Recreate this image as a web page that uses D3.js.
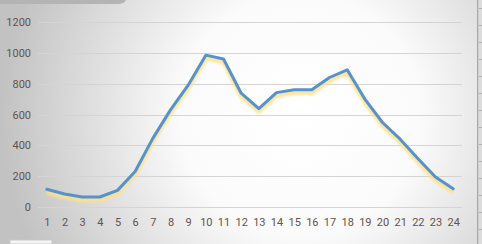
<!DOCTYPE html>
<html>
<head>
<meta charset="utf-8">
<script src="https://cdn.jsdelivr.net/npm/d3@7"></script>
<style>
  html, body { margin: 0; padding: 0; background: #d0d0d0; }
  svg { display: block; }
</style>
</head>
<body>
<div id="chart"></div>
<script>
// ---- Data ----
const hours = d3.range(1, 25).map(String);
const values = [115, 84, 65, 65, 108, 230, 445, 630, 790, 985, 960, 738,
                638, 742, 760, 760, 840, 890, 700, 548, 440, 315, 194, 118];
const yTicks = [0, 200, 400, 600, 800, 1000, 1200];

const width = 482, height = 244;
const margin = { top: 22, right: 20, bottom: 37, left: 38 };
const innerW = width - margin.left - margin.right;
const innerH = height - margin.top - margin.bottom;

const svg = d3.select("#chart").append("svg")
    .attr("width", width)
    .attr("height", height);

const defs = svg.append("defs");

// background: radial gradient, white centre
const bg = defs.append("radialGradient")
    .attr("id", "bg")
    .attr("gradientUnits", "userSpaceOnUse")
    .attr("cx", 300).attr("cy", 115)
    .attr("r", 300);
bg.append("stop").attr("offset", "0%").attr("stop-color", "#ffffff");
bg.append("stop").attr("offset", "40%").attr("stop-color", "#fbfbfb");
bg.append("stop").attr("offset", "100%").attr("stop-color", "#c2c2c2");

const blur = defs.append("filter").attr("id", "glow")
    .attr("x", "-10%").attr("y", "-10%").attr("width", "120%").attr("height", "120%");
blur.append("feGaussianBlur").attr("stdDeviation", 1.3);

svg.append("rect")
    .attr("width", width)
    .attr("height", height)
    .attr("fill", "url(#bg)");

// top-left tab & right edge strip
svg.append("path")
    .attr("d", "M0,0 H126 Q124,4 118,4 H0 Z")
    .attr("fill", "#b4b4b4");
svg.append("rect")
    .attr("x", 477).attr("y", 0).attr("width", 1.5).attr("height", height)
    .attr("fill", "#a8a8a8");
svg.append("rect")
    .attr("x", 478.5).attr("y", 0).attr("width", 4).attr("height", height)
    .attr("fill", "#dcdcdc");
svg.append("g").selectAll("line")
    .data(d3.range(8, height, 17))
    .join("line")
    .attr("x1", 479).attr("x2", 482)
    .attr("y1", d => d + 0.5).attr("y2", d => d + 0.5)
    .attr("stroke", "#b0b0b0");
svg.append("rect")
    .attr("x", 10).attr("y", 240).attr("width", 42).attr("height", 4)
    .attr("fill", "#f6f6f6").attr("stroke", "#c8c8c8");

const g = svg.append("g")
    .attr("transform", `translate(${margin.left}, ${margin.top})`);

// ---- Scales ----
const x = d3.scalePoint()
    .domain(hours)
    .range([0, innerW])
    .padding(0.5);

const y = d3.scaleLinear()
    .domain([0, 1200])
    .range([innerH, 0]);

// ---- Gridlines ----
g.append("g")
    .selectAll("line")
    .data(yTicks)
    .join("line")
    .attr("x1", 0)
    .attr("x2", innerW)
    .attr("y1", d => Math.round(y(d)) + 0.5)
    .attr("y2", d => Math.round(y(d)) + 0.5)
    .attr("stroke", "#d4d4d4")
    .attr("stroke-width", 1);

// ---- Axes ----
const yAxis = g.append("g")
    .call(d3.axisLeft(y).tickValues(yTicks).tickFormat(d3.format("d"))
        .tickSize(0).tickPadding(7));
yAxis.select(".domain").remove();

const xAxis = g.append("g")
    .attr("transform", `translate(0, ${innerH})`)
    .call(d3.axisBottom(x).tickSize(0).tickPadding(11));
xAxis.select(".domain").remove();

g.selectAll(".tick text")
    .style("font-family", "Roboto, 'Liberation Sans', sans-serif")
    .style("font-size", "11px")
    .attr("fill", "#64544a");

// ---- Lines ----
const line = d3.line()
    .x((d, i) => x(hours[i]))
    .y(d => y(d));

// soft yellow glow under the line
g.append("path")
    .datum(values)
    .attr("d", line)
    .attr("transform", "translate(0, 3)")
    .attr("fill", "none")
    .attr("stroke", "#ffe08a")
    .attr("stroke-width", 4.5)
    .attr("stroke-linejoin", "round")
    .attr("opacity", 0.85)
    .attr("filter", "url(#glow)");

g.append("path")
    .datum(values)
    .attr("d", line)
    .attr("fill", "none")
    .attr("stroke", "#5593cf")
    .attr("stroke-width", 3)
    .attr("stroke-linejoin", "round")
    .attr("stroke-linecap", "round");
</script>
</body>
</html>
